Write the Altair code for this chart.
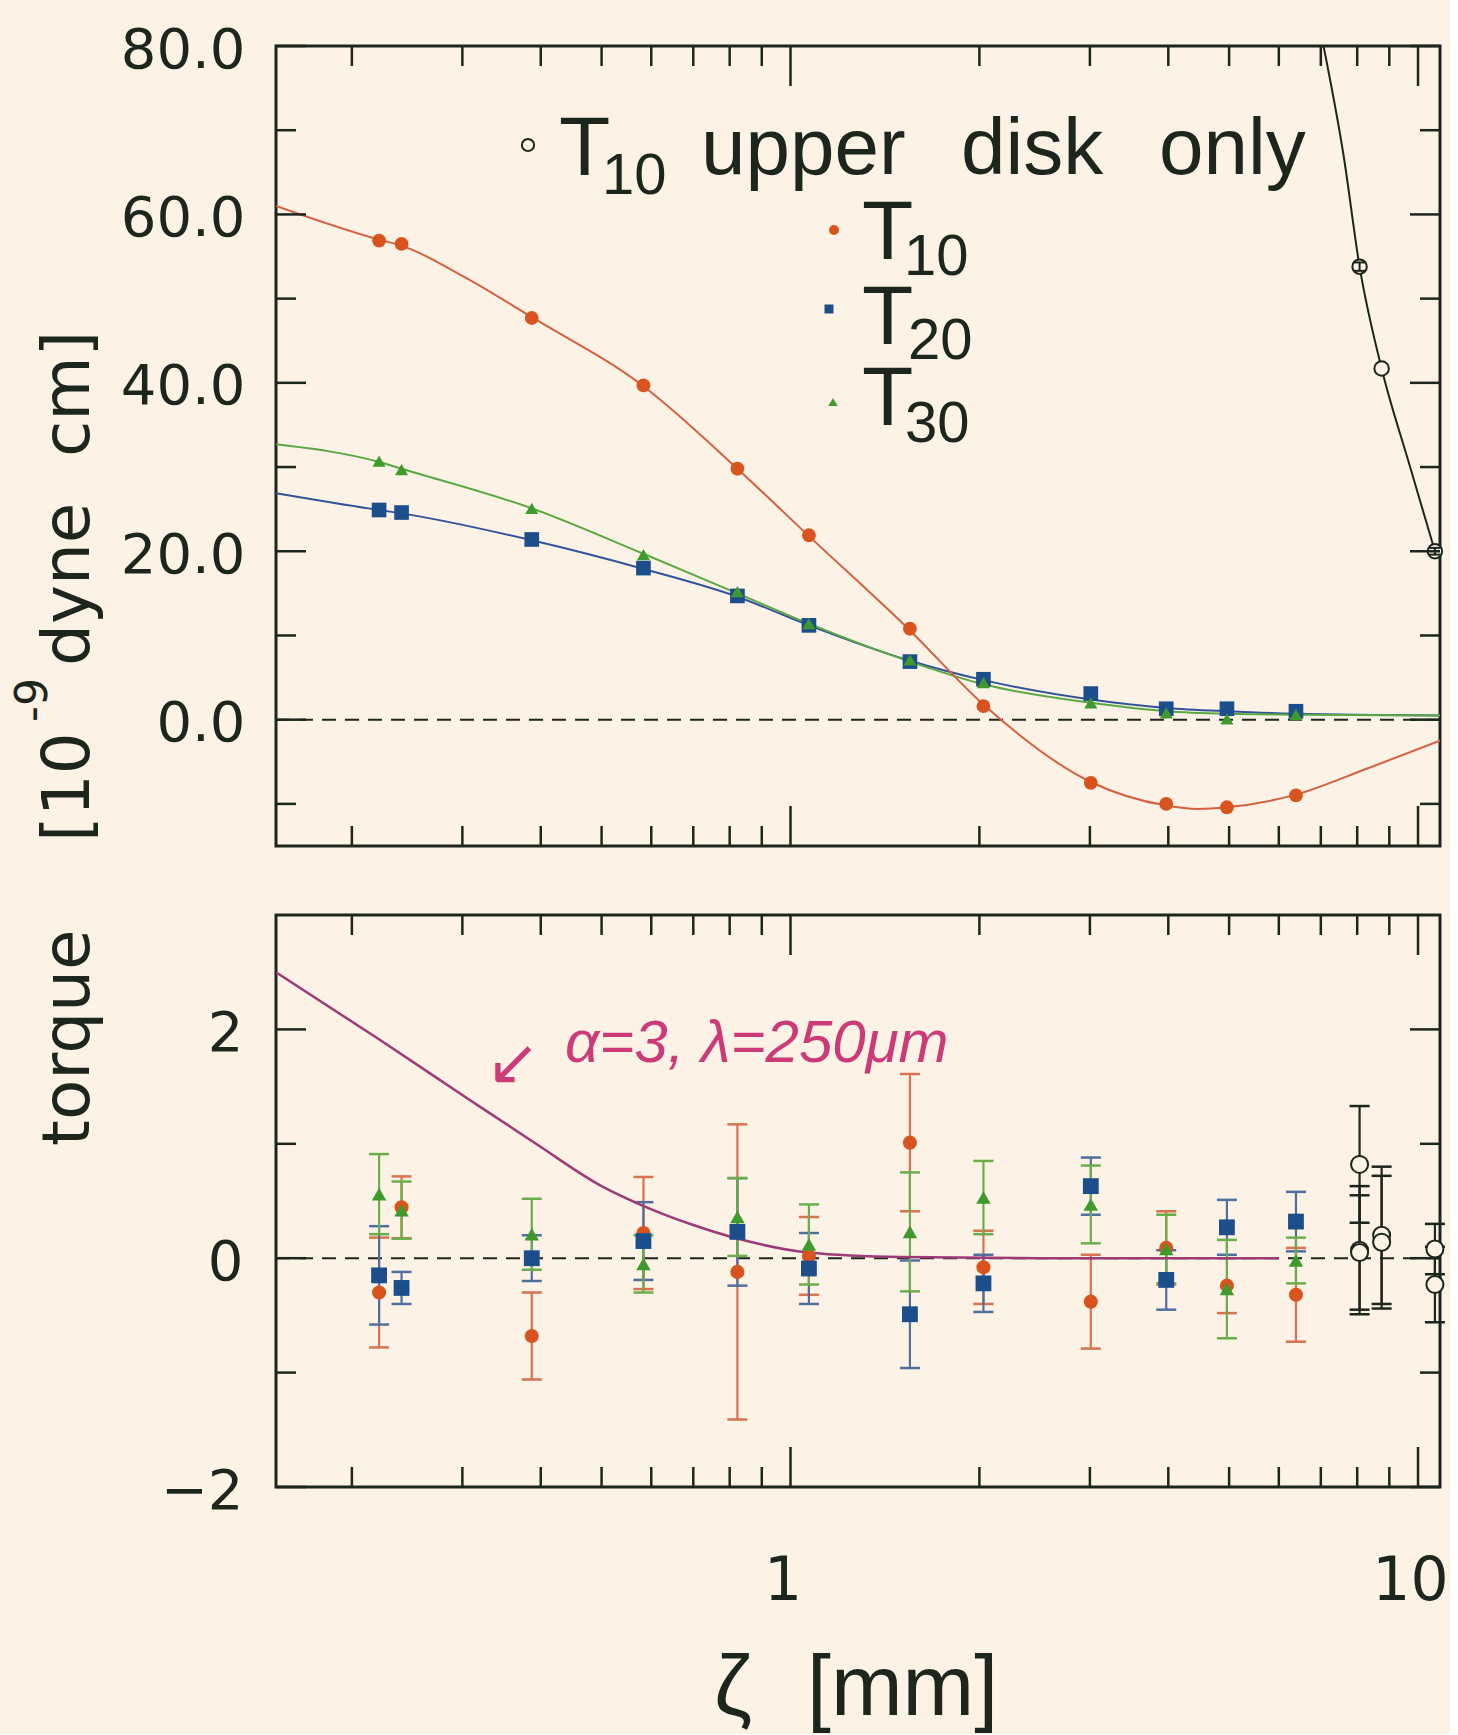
import altair as alt
import pandas as pd

# ---------------- values ----------------
# separations of the measurement groups [mm]
zeta = [0.221, 0.240, 0.387, 0.583, 0.823, 1.07, 1.55, 2.03, 3.01, 3.97, 4.96, 6.39]

# upper panel: measured torques [1e-9 dyne cm]
t10_top = [56.9, 56.5, 47.7, 39.7, 29.8, 21.9, 10.8, 1.6, -7.5, -10.0, -10.4, -9.0]
t20_top = [24.9, 24.6, 21.4, 18.0, 14.7, 11.2, 6.9, 4.8, 3.1, 1.3, 1.3, 1.0]
t30_top = [30.7, 29.7, 25.1, 19.6, 15.2, 11.4, 7.1, 4.4, 2.0, 0.8, 0.1, 0.6]

# fitted curves
t10_fit_x = [0.1514, 0.221, 0.240, 0.30, 0.387, 0.583, 0.823, 1.07, 1.55, 2.03, 3.01, 3.97, 4.45, 4.96, 6.39, 8.3, 10.84]
t10_fit_y = [61.0, 57.0, 56.3, 52.7, 47.8, 39.6, 29.8, 21.8, 10.6, 1.8, -7.4, -10.2, -10.6, -10.4, -8.9, -5.8, -2.5]
t20_fit_x = [0.1514, 0.221, 0.240, 0.387, 0.583, 0.823, 1.07, 1.55, 2.03, 3.01, 3.97, 4.96, 6.39, 10.84]
t20_fit_y = [26.9, 24.9, 24.5, 21.3, 17.9, 14.6, 11.2, 7.0, 4.7, 2.4, 1.4, 1.0, 0.7, 0.5]
t30_fit_x = [0.1514, 0.221, 0.240, 0.387, 0.583, 0.823, 1.07, 1.55, 2.03, 3.01, 3.97, 4.96, 6.39, 10.84]
t30_fit_y = [32.7, 30.6, 29.8, 25.1, 19.7, 15.0, 11.4, 6.9, 4.2, 2.0, 1.0, 0.7, 0.6, 0.5]

# T10 upper disk only
upd_x = [8.07, 8.75, 10.64]
upd_y = [53.8, 41.7, 20.0]
upd_err = [0.5, 0.0, 0.4]
upd_fit_x = [7.07, 7.61, 8.07, 8.75, 9.67, 10.64]
upd_fit_y = [80.0, 67.0, 53.8, 41.7, 30.5, 20.0]

# lower panel: residuals with errors
t10_res = [-0.30, 0.445, -0.68, 0.22, -0.12, 0.02, 1.01, -0.08, -0.38, 0.09, -0.24, -0.32]
t10_err = [0.48, 0.27, 0.38, 0.49, 1.29, 0.34, 0.60, 0.32, 0.41, 0.32, 0.24, 0.41]
t20_res = [-0.15, -0.26, 0.00, 0.15, 0.23, -0.09, -0.49, -0.22, 0.63, -0.19, 0.27, 0.32]
t20_err = [0.43, 0.14, 0.20, 0.34, 0.47, 0.31, 0.47, 0.25, 0.25, 0.26, 0.24, 0.26]
t30_res = [0.56, 0.42, 0.21, -0.05, 0.36, 0.12, 0.23, 0.53, 0.47, 0.08, -0.27, -0.02]
t30_err = [0.35, 0.25, 0.31, 0.25, 0.34, 0.35, 0.52, 0.32, 0.34, 0.30, 0.43, 0.20]
upd_res_x = [8.07, 8.07, 8.07, 8.75, 8.75, 10.64, 10.64]
upd_res = [0.82, 0.07, 0.05, 0.20, 0.14, 0.08, -0.23]
upd_res_err = [0.51, 0.56, 0.50, 0.60, 0.58, 0.22, 0.33]

# Yukawa curve alpha=3, lambda=250um
yuk_x = [0.1514, 0.22, 0.307, 0.393, 0.50, 0.581, 0.70, 0.825, 1.066, 1.5, 2.5, 6.0]
yuk_y = [2.50, 1.92, 1.39, 1.00, 0.63, 0.46, 0.29, 0.17, 0.05, 0.01, 0.0, 0.0]

# axes
x_domain = [0.1514, 10.84]
x_major = [1, 10]
x_minor = [0.2, 0.3, 0.4, 0.5, 0.6, 0.7, 0.8, 0.9, 2, 3, 4, 5, 6, 7, 8, 9]
x_labels = [1, 10]
yt_domain = [-15, 80]
yt_major = [0, 20, 40, 60, 80]
yt_minor = [-10, 10, 30, 50, 70]
yb_domain = [-2, 3]
yb_major = [-2, 0, 2]
yb_minor = [-1, 1]

# ---------------- style ----------------
W, H_TOP, H_BOT = 1164, 800, 572
bg = "#fcf2e5"
ink = "#1d261d"
red_pt, red_line, red_bar = "#d9531f", "#d56040", "#d9724e"
blue_pt, blue_line, blue_bar = "#1c4e8c", "#31539a", "#4f6f9f"
green_pt, green_line, green_bar = "#3f9a2e", "#5aa843", "#6aae4c"
mag_line, mag_text = "#9c3b78", "#cc3a78"

xscale = alt.Scale(type="log", domain=x_domain, nice=False)
yt_scale = alt.Scale(domain=yt_domain, nice=False, zero=False)
yb_scale = alt.Scale(domain=yb_domain, nice=False, zero=False)

common_axis = dict(ticks=False, tickSize=0, domain=False, grid=False, labelFont="DejaVu Sans",
                   labelColor=ink, labelFlush=False, labelOverlap=False, title=None)
yt_axis = alt.Axis(values=yt_major, format=".1f", labelFontSize=56, labelPadding=31, labelOffset=4, **common_axis)
yb_axis = alt.Axis(values=yb_major, format="d", labelFontSize=56, labelPadding=33, labelOffset=4, **common_axis)
xb_axis = alt.Axis(values=x_labels, format="d", labelFontSize=60, labelPadding=65, labelOffset=-8, **common_axis)


def XT(f):
    return alt.X(f"{f}:Q", scale=xscale, axis=None)


def YT(f):
    return alt.Y(f"{f}:Q", scale=yt_scale, axis=yt_axis)


def XB(f):
    return alt.X(f"{f}:Q", scale=xscale, axis=xb_axis)


def YB(f):
    return alt.Y(f"{f}:Q", scale=yb_scale, axis=yb_axis)


def tick_layers(Xf, Yf, ymaj, ymin, H):
    layers = []
    for vals, L in [(x_major, 40), (x_minor, 20)]:
        d = pd.DataFrame({"v": vals})
        base = alt.Chart(d).mark_rule(color=ink, strokeWidth=2.5)
        layers.append(base.encode(x=Xf("v"), y=alt.value(0), y2=alt.value(L)))
        layers.append(base.encode(x=Xf("v"), y=alt.value(H), y2=alt.value(H - L)))
    for vals, L in [(ymaj, 30), (ymin, 20)]:
        d = pd.DataFrame({"v": vals})
        base = alt.Chart(d).mark_rule(color=ink, strokeWidth=2.5)
        layers.append(base.encode(y=Yf("v"), x=alt.value(0), x2=alt.value(L)))
        layers.append(base.encode(y=Yf("v"), x=alt.value(W), x2=alt.value(W - L)))
    return layers


def txt(s, x, y, size, font="Liberation Sans", color=ink, angle=0, align="left",
        baseline="alphabetic", style="normal"):
    d = pd.DataFrame({"s": [s]})
    return alt.Chart(d).mark_text(font=font, fontSize=size, color=color, angle=angle, align=align,
                                  baseline=baseline, fontStyle=style).encode(
        text="s:N", x=alt.value(x), y=alt.value(y))


def sym(x, y, shape, size, color, open_=False):
    d = pd.DataFrame({"s": [0]})
    if open_:
        m = alt.Chart(d).mark_point(shape=shape, size=size, filled=True, fill=bg, stroke=ink,
                                    strokeWidth=2, opacity=1)
    else:
        m = alt.Chart(d).mark_point(shape=shape, size=size, filled=True, color=color, opacity=1)
    return m.encode(x=alt.value(x), y=alt.value(y))


one = pd.DataFrame({"y": [0]})

# ---------------- upper panel ----------------
top_layers = []
top_layers.append(alt.Chart(one).mark_rule(color=ink, strokeWidth=2, strokeDash=[14, 9]).encode(y=YT("y")))
for fx, fy, col in [(t20_fit_x, t20_fit_y, blue_line), (t30_fit_x, t30_fit_y, green_line),
                    (t10_fit_x, t10_fit_y, red_line)]:
    d = pd.DataFrame({"x": fx, "y": fy})
    top_layers.append(alt.Chart(d).mark_line(interpolate="monotone", color=col, strokeWidth=2, clip=True)
                      .encode(x=XT("x"), y=YT("y")))
d_upd_fit = pd.DataFrame({"x": upd_fit_x, "y": upd_fit_y})
top_layers.append(alt.Chart(d_upd_fit).mark_line(interpolate="monotone", color=ink, strokeWidth=2, clip=True)
                  .encode(x=XT("x"), y=YT("y")))

d10 = pd.DataFrame({"x": zeta, "y": t10_top})
d20 = pd.DataFrame({"x": zeta, "y": t20_top})
d30 = pd.DataFrame({"x": zeta, "y": t30_top})
top_layers.append(alt.Chart(d10).mark_point(shape="circle", filled=True, color=red_pt, size=190, opacity=1)
                  .encode(x=XT("x"), y=YT("y")))
top_layers.append(alt.Chart(d20).mark_point(shape="square", filled=True, color=blue_pt, size=215, opacity=1)
                  .encode(x=XT("x"), y=YT("y")))
top_layers.append(alt.Chart(d30).mark_point(shape="triangle-up", filled=True, color=green_pt, size=170, opacity=1)
                  .encode(x=XT("x"), y=YT("y")))

d_upd = pd.DataFrame({"x": upd_x, "y": upd_y, "e": upd_err})
d_upd["lo"] = d_upd["y"] - d_upd["e"]
d_upd["hi"] = d_upd["y"] + d_upd["e"]
top_layers.append(alt.Chart(d_upd).mark_point(shape="circle", filled=True, fill=bg, stroke=ink, strokeWidth=2,
                                              size=210, opacity=1).encode(x=XT("x"), y=YT("y")))
d_upd_e = d_upd[d_upd["e"] > 0]
top_layers.append(alt.Chart(d_upd_e).mark_rule(color=ink, strokeWidth=2).encode(
    x=XT("x"), y=YT("lo"), y2=alt.Y2("hi:Q")))
for f in ["lo", "hi"]:
    top_layers.append(alt.Chart(d_upd_e).mark_tick(orient="horizontal", color=ink, size=12, thickness=2, opacity=1)
                      .encode(x=XT("x"), y=YT(f)))

top_layers += tick_layers(XT, YT, yt_major, yt_minor, H_TOP)

# legend
top_layers += [
    sym(252, 99, "circle", 150, ink, open_=True),
    txt("T", 283, 129, 84),
    txt("10", 326, 148, 58),
    txt("upper", 425, 128, 80),
    txt("disk", 685, 128, 80),
    txt("only", 883, 128, 80),
    sym(558, 184, "circle", 100, red_pt),
    txt("T", 586, 213, 84),
    txt("10", 628, 229, 58),
    sym(553, 263, "square", 81, blue_pt),
    txt("T", 586, 298, 84),
    txt("20", 632, 313, 58),
    sym(557, 356, "triangle-up", 90, green_pt),
    txt("T", 586, 379, 84),
    txt("30", 629, 396, 58),
]

# y-axis title (rotated, spans both panels)
top_layers += [
    txt("torque", -187, 1100, 66, font="DejaVu Sans", angle=270),
    txt("[10", -187, 796, 66, font="DejaVu Sans", angle=270),
    txt("-9", -229, 676, 44, font="DejaVu Sans", angle=270),
    txt("dyne", -187, 620, 66, font="DejaVu Sans", angle=270),
    txt("cm]", -187, 411, 66, font="DejaVu Sans", angle=270),
]

# invisible anchor that fixes the plot origin on the page
top_layers.append(alt.Chart(one).mark_rule(opacity=0).encode(
    x=alt.value(-274), x2=alt.value(-273), y=alt.value(-44), y2=alt.value(-43)))

top = alt.layer(*top_layers).properties(width=W, height=H_TOP)

# ---------------- lower panel ----------------
bot_layers = []
bot_layers.append(alt.Chart(one).mark_rule(color=ink, strokeWidth=2, strokeDash=[14, 9]).encode(y=YB("y")))


def err_df(xs, ys, es):
    d = pd.DataFrame({"x": xs, "y": ys, "e": es})
    d["lo"] = d["y"] - d["e"]
    d["hi"] = d["y"] + d["e"]
    return d


series = [
    (err_df(zeta, t10_res, t10_err), red_bar),
    (err_df(zeta, t20_res, t20_err), blue_bar),
    (err_df(zeta, t30_res, t30_err), green_bar),
    (err_df(upd_res_x, upd_res, upd_res_err), ink),
]
for d, col in series:
    bot_layers.append(alt.Chart(d).mark_rule(color=col, strokeWidth=2.2).encode(
        x=XB("x"), y=YB("lo"), y2=alt.Y2("hi:Q")))
    for f in ["lo", "hi"]:
        bot_layers.append(alt.Chart(d).mark_tick(orient="horizontal", color=col, size=20, thickness=2.5, opacity=1)
                          .encode(x=XB("x"), y=YB(f)))

d_yuk = pd.DataFrame({"x": yuk_x, "y": yuk_y})
bot_layers.append(alt.Chart(d_yuk).mark_line(interpolate="monotone", color=mag_line, strokeWidth=2.5, clip=True)
                  .encode(x=XB("x"), y=YB("y")))

bot_layers.append(alt.Chart(series[0][0]).mark_point(shape="circle", filled=True, color=red_pt, size=200, opacity=1)
                  .encode(x=XB("x"), y=YB("y")))
bot_layers.append(alt.Chart(series[1][0]).mark_point(shape="square", filled=True, color=blue_pt, size=250, opacity=1)
                  .encode(x=XB("x"), y=YB("y")))
bot_layers.append(alt.Chart(series[2][0]).mark_point(shape="triangle-up", filled=True, color=green_pt, size=210,
                                                     opacity=1).encode(x=XB("x"), y=YB("y")))
bot_layers.append(alt.Chart(series[3][0]).mark_point(shape="circle", filled=True, fill=bg, stroke=ink, strokeWidth=2,
                                                     size=290, opacity=1).encode(x=XB("x"), y=YB("y")))

bot_layers += tick_layers(XB, YB, yb_major, yb_minor, H_BOT)

# annotation
bot_layers += [
    txt("↙", 237, 150, 64, font="DejaVu Sans", color=mag_text, align="center", baseline="middle"),
    txt("α=3, λ=250μm", 289, 147, 60, color=mag_text, style="italic"),
]

# x-axis title
bot_layers += [
    txt("ζ", 438, 800, 86),
    txt("[mm]", 531, 800, 86),
]

bot = alt.layer(*bot_layers).properties(width=W, height=H_BOT)

chart = (
    alt.vconcat(top, bot, spacing=69, bounds="flush")
    .properties(padding=0)
    .configure(background=bg)
    .configure_view(stroke=ink, strokeWidth=3)
)

chart.save("out.html", embed_options={"renderer": "svg", "actions": False})
